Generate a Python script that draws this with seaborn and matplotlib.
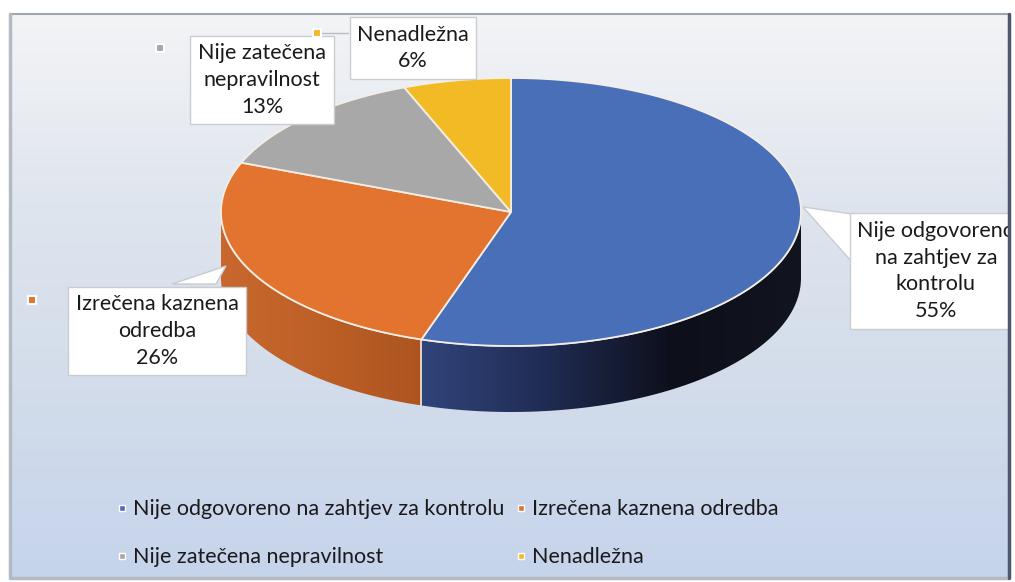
import numpy as np
import matplotlib
matplotlib.use("Agg")
import matplotlib.pyplot as plt
import seaborn as sns
from matplotlib.patches import Polygon, Rectangle
from matplotlib.colors import LinearSegmentedColormap
from matplotlib.lines import Line2D

sns.set_theme(style="white")
plt.rcParams['font.family'] = ['Lato', 'DejaVu Sans']

# data
categories = ["Nije odgovoreno na zahtjev za kontrolu", "Izrečena kaznena odredba",
              "Nije zatečena nepravilnost", "Nenadležna"]
values = [55, 26, 13, 6]
box_labels = ["Nije odgovoreno\nna zahtjev za\nkontrolu", "Izrečena kaznena\nodredba",
              "Nije zatečena\nnepravilnost", "Nenadležna"]
colors = ["#4a6fb9", "#e2742f", "#a8a8a8", "#f2bb26"]
side_colors = [["#31447a", "#1f2b52", "#0d0f1a", "#12151f"],
               ["#c8682e", "#bd6027", "#ad5420"]]

# layout (pixel space)
W, H = 1015, 582
cx, cy, a, b, depth = 511, 212, 290, 134, 66

fig = plt.figure(figsize=(W / 100, H / 100), dpi=100)
ax = fig.add_axes([0, 0, 1, 1])
ax.set_axis_off()

# background
grad = np.linspace(0, 1, 200).reshape(-1, 1)
bg = LinearSegmentedColormap.from_list("bg", ["#f3f4f6", "#dfe5ee", "#d2dcea", "#c6d4ec"])
ax.imshow(grad, extent=[10, 1009, 578, 14], cmap=bg, aspect="auto", zorder=0)
ax.plot([10, 1009, 1009], [14, 14, 578], color="#a0a6ae", lw=1.5, zorder=1)
ax.plot([10, 10, 1009], [14, 578, 578], color="#b4bac4", lw=2.5, zorder=1)

# wedge angles, clockwise from 12 o'clock
fr = np.array(values) / sum(values)
ends = 90 - 360 * np.cumsum(fr)
starts = np.concatenate([[90], ends[:-1]])


def rim(t):
    t = np.radians(t)
    return cx + a * np.cos(t), cy - b * np.sin(t)


# side of the pie (front half only)
side_ranges = [(ends[0] + 360, 360), (180, ends[0] + 360)]
for (t1, t2), sc in zip(side_ranges, side_colors):
    ts = np.linspace(t1, t2, 80)
    x, y = rim(ts)
    pts = np.vstack([np.column_stack([x, y]), np.column_stack([x[::-1], y[::-1] + depth])])
    poly = Polygon(pts, closed=True, facecolor="none", edgecolor="none", zorder=2)
    ax.add_patch(poly)
    g = np.linspace(0, 1, 300).reshape(1, -1)
    cm = LinearSegmentedColormap.from_list("s", sc)
    im = ax.imshow(g, extent=[x.min(), x.max(), y.max() + depth, y.min()], cmap=cm,
                   aspect="auto", zorder=2)
    im.set_clip_path(poly)

# boundary line on the side
bx, by = rim(ends[0])
ax.plot([bx, bx], [by, by + depth], color="#f0e6d8", lw=1.2, zorder=3)
# front rim highlight
x, y = rim(np.linspace(180, 360, 200))
ax.plot(x, y, color="#e8e4dc", lw=1.2, zorder=4)

# top of the pie
for s, e, c in zip(starts, ends, colors):
    ts = np.linspace(s, e, 120)
    x, y = rim(ts)
    pts = np.vstack([[cx, cy], np.column_stack([x, y])])
    ax.add_patch(Polygon(pts, closed=True, facecolor=c, edgecolor="#f3eee6", lw=1.3, zorder=5))

# callout labels
lab_pos = [(936, 271), (157, 331), (262, 80), (413, 48)]
key_pos = [None, (32, 300), (160, 48), (317, 33)]
fs = 15.5
for i, (lab, v) in enumerate(zip(box_labels, values)):
    ax.text(*lab_pos[i], f"{lab}\n{v}%", ha="center", va="center", fontsize=fs,
            color="#1a1a1a", linespacing=1.42, zorder=8,
            bbox=dict(boxstyle="square,pad=0.35", facecolor="white", edgecolor="#c9ccd0", lw=1))
    if key_pos[i] is not None:
        ax.scatter(*key_pos[i], marker="s", s=30, color=colors[i], edgecolors="white",
                   linewidths=1.5, zorder=9)

# pointers
ax.add_patch(Polygon([(852, 214), (852, 262), (803, 207)], closed=True, facecolor="white",
                     edgecolor="#c9ccd0", lw=1, zorder=7))
ax.add_patch(Polygon([(172, 284), (216, 284), (226, 266)], closed=True, facecolor="white",
                     edgecolor="#c9ccd0", lw=1, zorder=7))
ax.plot([322, 348], [33, 33], color="#b8bcc2", lw=1, zorder=6)

# right edge of the frame cuts the label
ax.add_patch(Rectangle((1010, 0), 10, H, facecolor="white", edgecolor="none", zorder=10))
ax.plot([1009, 1009], [14, 578], color="#4e586c", lw=2.5, zorder=11)

ax.set_xlim(0, W)
ax.set_ylim(H, 0)

# legend, row-wise order
order = [0, 2, 1, 3]
handles = [Line2D([], [], marker="s", ls="", markersize=5, color=colors[i],
                  markeredgecolor="white", markeredgewidth=1) for i in order]
ax.legend(handles, [categories[i] for i in order], ncol=2, loc="upper left",
          bbox_to_anchor=(94 / W, 1 - 480 / H), frameon=False, fontsize=fs,
          handletextpad=0.1, handlelength=0.8, columnspacing=0.4, labelspacing=1.3,
          labelcolor="#1a1a1a")

fig.savefig("out.png", dpi=100)
